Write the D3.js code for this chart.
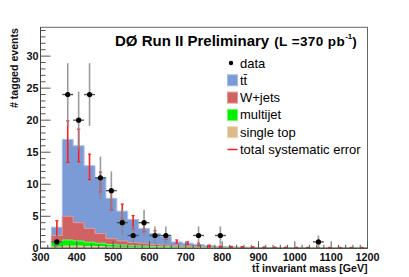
<!DOCTYPE html>
<html><head><meta charset="utf-8">
<script src="https://cdn.jsdelivr.net/npm/d3@7/dist/d3.min.js"></script>
<style>body{margin:0;background:#fff}svg{display:block}text{font-family:"Liberation Sans",Arial,sans-serif}</style>
</head><body><svg id="c" width="409" height="277"></svg>
<script>
const binStart = [330,360,390,420,450,480,510,540,570,600,630,660,690,720,750,780,810,840,870,900,930,960,990,1020,1050,1080,1110,1140,1170];
const binWidth = 30;
const singleTop = [0.2,0.35,0.35,0.3,0.25,0.2,0.15,0.12,0.1,0.08,0.07,0.06,0.05,0.04,0.03,0.03,0.02,0.02,0.02,0.01,0.01,0.01,0.01,0.01,0.01,0.01,0.01,0.01,0.01];
const multijet = [0.8,0.95,0.8,0.65,0.55,0.4,0.35,0.28,0.25,0.22,0.18,0.14,0.13,0.11,0.09,0.07,0.06,0.05,0.04,0.04,0.03,0.03,0.02,0.02,0.02,0.01,0.01,0.01,0.01];
const wjets = [1.0,3.7,2.85,2.15,1.5,0.9,0.65,0.5,0.45,0.3,0.25,0.2,0.17,0.1,0.08,0.07,0.06,0.05,0.04,0.03,0.03,0.02,0.02,0.02,0.01,0.02,0.01,0.01,0.01];
const ttbar = [1.3,12.0,12.0,9.8,8.7,6.3,4.65,3.6,2.3,1.7,1.3,0.6,0.45,0.35,0.2,0.13,0.08,0.06,0.04,0.04,0.03,0.02,0.02,0.01,0.01,0.01,0.01,0.01,0.01];
const sysLo = [1.0,13.4,13.5,10.7,8.8,6.0,4.4,3.0,2.6,1.8,1.4,0.8,0.6,0.4,0.2,0.15,0.12,0.1,0.08,0.06,0.05,0.04,0.03,0.02,0.02,0.02,0.01,0.01,0.01];
const sysHi = [4.3,19.9,18.6,14.7,11.9,8.95,6.9,5.1,3.9,2.75,1.9,1.3,1.0,0.8,0.5,0.35,0.3,0.25,0.2,0.18,0.15,0.14,0.12,0.11,0.1,0.1,0.09,0.09,0.09];
const dataCounts = [1,24,20,24,11,9,4,2,4,2,2,0,0,2,0,2,0,0,0,0,0,0,0,0,1,0,0,0,0];
const xTicks = [300,400,500,600,700,800,900,1000,1100,1200];
const yTicks = [0,5,10,15,20,25,30];

const svg = d3.select("#c");
const L = 40.5, R = 367.5, T = 27.3, B = 248.3;
const x = d3.scaleLinear().domain([300,1200]).range([L,R]);
const y = d3.scaleLinear().domain([0,34.5]).range([B,T]);

const layers = [
  {key:"singleTop", vals:singleTop, fill:"#dcb987", edge:"#ecd6b4"},
  {key:"multijet", vals:multijet, fill:"#00f000", edge:"#66ff66"},
  {key:"wjets", vals:wjets, fill:"#d06262", edge:"#e49a9a"},
  {key:"ttbar", vals:ttbar, fill:"#7b9bd7", edge:"#aabde6"}
];
const rows = binStart.map((s,i)=>{const o={s}; layers.forEach(l=>o[l.key]=l.vals[i]); return o;});
const stack = d3.stack().keys(layers.map(l=>l.key))(rows);

for (let li = layers.length-1; li >= 0; li--) {
  const st = stack[li];
  const pts = [];
  st.forEach((d,i)=>{ pts.push([binStart[i], d[1]]); pts.push([binStart[i]+binWidth, d[1]]); });
  const area = d3.area().x(p=>x(p[0])).y0(y(0)).y1(p=>y(p[1]));
  svg.append("path").datum(pts).attr("d",area).attr("fill",layers[li].fill).attr("stroke","none");
  const line = d3.line().x(p=>x(p[0])).y(p=>y(p[1]));
  svg.append("path").datum([[binStart[0],0]].concat(pts)).attr("d",line)
    .attr("fill","none").attr("stroke",layers[li].edge).attr("stroke-width",1);
}

const sysG = svg.append("g").attr("stroke","#ff2020").attr("stroke-width",1.6);
binStart.forEach((s,i)=>{
  const cx = x(s+binWidth/2);
  sysG.append("line").attr("x1",cx).attr("x2",cx).attr("y1",y(sysLo[i])).attr("y2",Math.min(y(sysHi[i]), y(sysLo[i])-1.5));
  sysG.append("line").attr("x1",cx-1.6).attr("x2",cx+1.6).attr("y1",y(sysLo[i])).attr("y2",y(sysLo[i])).attr("stroke-width",1.2);
  sysG.append("line").attr("x1",cx-1.6).attr("x2",cx+1.6).attr("y1",y(sysHi[i])).attr("y2",y(sysHi[i])).attr("stroke-width",1.2);
});

const axG = svg.append("g");
axG.append("rect").attr("x",L).attr("y",T).attr("width",R-L).attr("height",B-T).attr("fill","none").attr("stroke","#666").attr("stroke-width",1);
for (let v=0; v<=34; v+=1) {
  const major = v%5===0;
  axG.append("line").attr("x1",L).attr("x2",L+(major?10:5)).attr("y1",y(v)).attr("y2",y(v)).attr("stroke","#555").attr("stroke-width",1);
}
for (let v=300; v<=1200; v+=20) {
  const major = v%100===0;
  axG.append("line").attr("x1",x(v)).attr("x2",x(v)).attr("y1",B).attr("y2",B-(major?7:3.5)).attr("stroke","#555").attr("stroke-width",1);
}
axG.append("line").attr("x1",L).attr("x2",R).attr("y1",B).attr("y2",B).attr("stroke","#444");
axG.append("line").attr("x1",L).attr("x2",L).attr("y1",T).attr("y2",B).attr("stroke","#444");

const dG = svg.append("g");
binStart.forEach((s,i)=>{
  const n = dataCounts[i]; if (!n) return;
  const cx = x(s+binWidth/2), cy = y(n), e = Math.sqrt(n);
  dG.append("line").attr("x1",cx).attr("x2",cx).attr("y1",y(n-e)).attr("y2",y(n+e)).attr("stroke","#8a8a8a").attr("stroke-width",1.6).attr("opacity",0.85);
  dG.append("line").attr("x1",x(s)).attr("x2",x(s+binWidth)).attr("y1",cy).attr("y2",cy).attr("stroke","#555").attr("stroke-width",1.4);
  dG.append("circle").attr("cx",cx).attr("cy",cy).attr("r",2.6).attr("fill","#000");
});

yTicks.forEach(v=>svg.append("text").attr("x",38.5).attr("y",y(v)+3.6).attr("text-anchor","end")
  .attr("font-size",10.8).attr("font-weight","bold").attr("fill","#111").text(v));
xTicks.forEach(v=>svg.append("text").attr("x",x(v)).attr("y",261).attr("text-anchor","middle")
  .attr("font-size",10.8).attr("font-weight","bold").attr("fill","#111").text(v));

svg.append("text").attr("x",R).attr("y",272).attr("text-anchor","end").attr("font-size",10.6).attr("font-weight","bold").attr("fill","#111")
  .text("tt\u0304 invariant mass [GeV]");
svg.append("text").attr("transform","translate(18,28) rotate(-90)").attr("text-anchor","end").attr("font-size",10.6).attr("font-weight","bold").attr("fill","#111")
  .text("# tagged events");

const tt = svg.append("text").attr("x",115).attr("y",45.5).attr("font-weight","bold").attr("fill","#000");
tt.append("tspan").attr("font-size",15).text("D\u00D8 Run II Preliminary");
tt.append("tspan").attr("font-size",13.5).attr("dx",5).attr("letter-spacing",0.4).text("(L =370 pb");
tt.append("tspan").attr("font-size",8).attr("dy",-7).text("-1");
tt.append("tspan").attr("font-size",13.5).attr("dy",7).text(")");

const lg = svg.append("g");
const legItems = [
  {label:"data", type:"dot"},
  {label:"tt\u0304", type:"box", fill:"#7b9bd7", edge:"#aabde6"},
  {label:"W+jets", type:"box", fill:"#d06262", edge:"#e49a9a"},
  {label:"multijet", type:"box", fill:"#00f000", edge:"#66ff66"},
  {label:"single top", type:"box", fill:"#dcb987", edge:"#ecd6b4"},
  {label:"total systematic error", type:"line"}
];
legItems.forEach((it,i)=>{
  const cy = 63 + i*17.3;
  if (it.type==="dot") lg.append("circle").attr("cx",231).attr("cy",cy).attr("r",2.2).attr("fill","#000");
  else if (it.type==="box") lg.append("rect").attr("x",227.5).attr("y",cy-5.5).attr("width",10).attr("height",11).attr("fill",it.fill).attr("stroke",it.edge).attr("stroke-width",1);
  else lg.append("line").attr("x1",227.5).attr("x2",237.5).attr("y1",cy).attr("y2",cy).attr("stroke","#ff2020").attr("stroke-width",1.5);
  lg.append("text").attr("x",240).attr("y",cy+4.5).attr("font-size",13).attr("fill","#000").text(it.label);
});
</script></body></html>
